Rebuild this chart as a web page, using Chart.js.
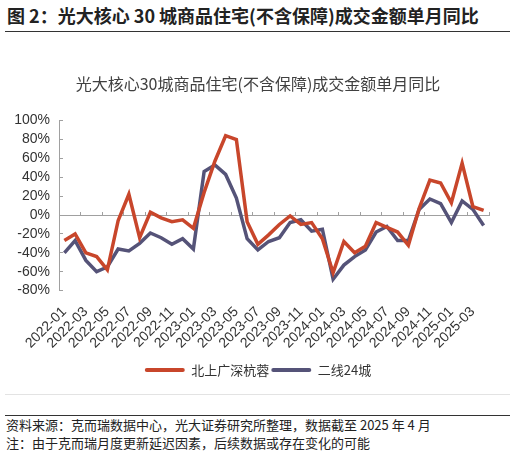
<!DOCTYPE html>
<html>
<head>
<meta charset="utf-8">
<script src="https://cdn.jsdelivr.net/npm/chart.js@4.4.1/dist/chart.umd.min.js"></script>
<style>
    body { margin: 0; width: 516px; height: 455px; background: #fff; position: relative; overflow: hidden; font-family: 'Noto Sans CJK SC', sans-serif; color: #222; }
    #header { position: absolute; left: 7px; top: 4px; font-size: 18px; font-weight: bold; line-height: 22px; white-space: nowrap; }
    #header-line { position: absolute; left: 5px; top: 31px; width: 505px; height: 1px; background: #333; }
    #chart-box { position: absolute; left: 0; top: 60px; width: 516px; height: 330px; }
    #light-line { position: absolute; left: 5px; top: 394px; width: 505px; height: 1px; background: #e3e3e3; }
    #footer-line { position: absolute; left: 5px; top: 415px; width: 505px; height: 1px; background: #333; }
    #footer { position: absolute; left: 6px; top: 416px; font-size: 13px; line-height: 18.3px; white-space: nowrap; }
</style>
</head>
<body>
<div id="header">图 2：光大核心 30 城商品住宅(不含保障)成交金额单月同比</div>
<div id="header-line"></div>
<div id="chart-box"><canvas id="graphic-yoy"></canvas></div>
<div id="light-line"></div>
<div id="footer-line"></div>
<div id="footer">资料来源：克而瑞数据中心，光大证券研究所整理，数据截至 2025 年 4 月<br>注：由于克而瑞月度更新延迟因素，后续数据或存在变化的可能</div>

<script>
const months = ['2022-01', '2022-02', '2022-03', '2022-04', '2022-05', '2022-06', '2022-07', '2022-08', '2022-09', '2022-10', '2022-11', '2022-12',
    '2023-01', '2023-02', '2023-03', '2023-04', '2023-05', '2023-06', '2023-07', '2023-08', '2023-09', '2023-10', '2023-11', '2023-12',
    '2024-01', '2024-02', '2024-03', '2024-04', '2024-05', '2024-06', '2024-07', '2024-08', '2024-09', '2024-10', '2024-11', '2024-12',
    '2025-01', '2025-02', '2025-03', '2025-04'];

// 北上广深杭蓉, %
const tierOne = [-27, -20, -40, -44, -58, -6, 22, -24, 3, -3, -7, -5,
    -14, 24, 57, 84, 80, -7, -31, -21, -10, -1, -10, -8,
    -25, -61, -28, -40, -33, -8, -13, -18, -32, 7, 37, 34,
    13, 55, 9, 5];

// 二线24城, %
const tierTwo = [-40, -27, -48, -60, -55, -36, -38, -30, -19, -24, -31, -25,
    -36, 46, 53, 43, 18, -25, -37, -28, -24, -8, -5, -17,
    -15, -68, -53, -44, -37, -18, -12, -27, -27, 6, 17, 12,
    -8, 15, 6, -11];

const yTicks = [-80, -60, -40, -20, 0, 20, 40, 60, 80, 100];

const numFont = { family: "'Liberation Sans', Arial, sans-serif", size: 14 };
const cjkFont = { family: "'Noto Sans CJK SC', sans-serif", size: 13 };
const axisGray = '#a0a0a0';

const data = {
    labels: months,
    datasets: [{
        label: '北上广深杭蓉',
        data: tierOne,
        borderColor: '#c8462b',
        backgroundColor: '#c8462b',
        borderWidth: 3.5,
        pointRadius: 0,
        tension: 0
    }, {
        label: '二线24城',
        data: tierTwo,
        borderColor: '#555378',
        backgroundColor: '#555378',
        borderWidth: 3.5,
        pointRadius: 0,
        tension: 0
    }]
};

const config = {
    type: 'line',
    data: data,
    options: {
        responsive: true,
        maintainAspectRatio: false,
        animation: false,
        layout: { padding: { left: 0, right: 0, top: 0, bottom: 3.5 } },
        plugins: {
            title: {
                display: true,
                text: '光大核心30城商品住宅(不含保障)成交金额单月同比',
                color: '#404040',
                font: { family: "'Noto Sans CJK SC', sans-serif", size: 16, weight: 'normal', lineHeight: 1.2 },
                padding: { top: 14.4, bottom: 27 }
            },
            legend: {
                position: 'bottom',
                labels: {
                    color: '#333',
                    font: cjkFont,
                    boxWidth: 40,
                    boxHeight: 4,
                    padding: 2,
                    useBorderRadius: true,
                    borderRadius: 2,
                    generateLabels: chart => Chart.defaults.plugins.legend.labels.generateLabels(chart)
                        .map(item => ({ ...item, lineWidth: 0 }))
                }
            },
            tooltip: { enabled: false }
        },
        scales: {
            x: {
                type: 'category',
                position: { y: 0 },
                offset: true,
                grid: {
                    offset: true,
                    drawOnChartArea: false,
                    drawTicks: true,
                    tickLength: -4,
                    tickColor: ctx => (ctx.index === undefined || ctx.index % 2 === 0) ? axisGray : 'rgba(0,0,0,0)'
                },
                border: { display: true, color: axisGray, width: 1 },
                ticks: { display: false, autoSkip: false },
                afterFit: scale => { scale.height = 0; }
            },
            x2: {
                type: 'category',
                position: 'bottom',
                offset: true,
                grid: { display: false, drawTicks: false },
                border: { display: false },
                ticks: {
                    autoSkip: false,
                    minRotation: 45,
                    maxRotation: 45,
                    padding: 13,
                    color: '#333',
                    font: numFont,
                    callback: (value, index) => index % 2 === 0 ? months[index] : ''
                },
                afterFit: scale => { scale.height = 70.9; }
            },
            y: {
                min: -80,
                max: 100,
                afterBuildTicks: scale => { scale.ticks = yTicks.map(v => ({ value: v })); },
                grid: {
                    drawOnChartArea: false,
                    drawTicks: true,
                    tickLength: -4,
                    tickColor: axisGray
                },
                border: { display: true, color: axisGray, width: 1 },
                ticks: {
                    autoSkip: false,
                    padding: 13,
                    color: '#333',
                    font: numFont,
                    callback: value => value + '%'
                },
                afterFit: scale => { scale.width = 59; }
            },
            // empty right-hand strip so the title centres on the whole figure
            yRight: {
                position: 'right',
                grid: { display: false, drawTicks: false },
                border: { display: false },
                ticks: { display: false },
                afterFit: scale => { scale.width = 27; }
            }
        }
    }
};

new Chart(document.getElementById('graphic-yoy'), config);
</script>
</body>
</html>
